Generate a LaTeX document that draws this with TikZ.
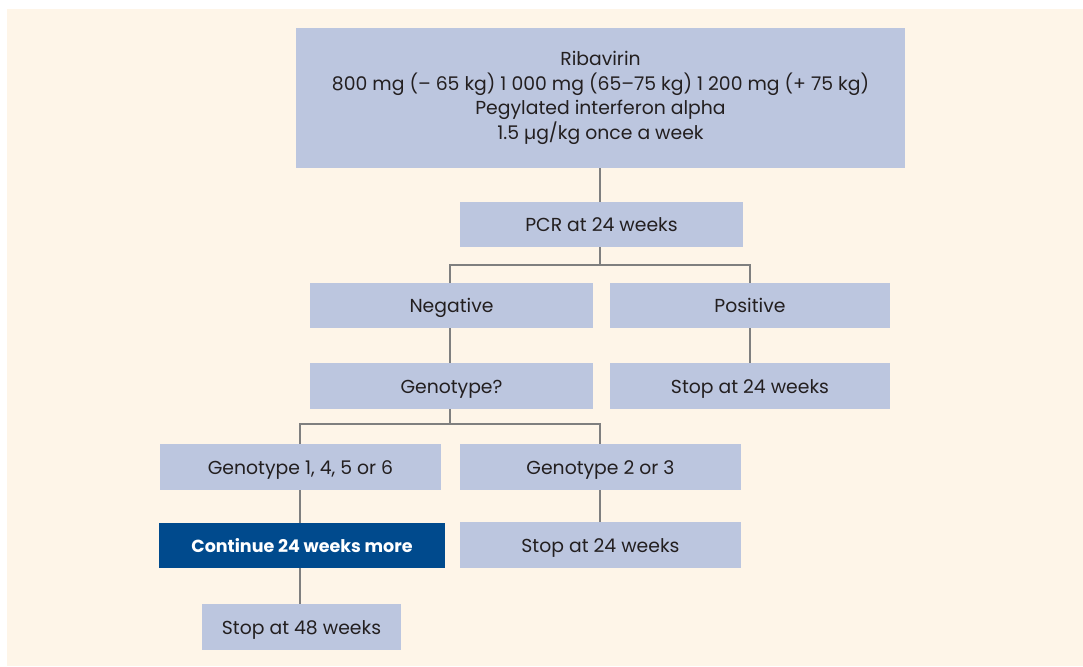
\documentclass[tikz,border=0pt]{standalone}
\usepackage{fontspec}
\setmainfont{Poppins}
\begin{document}
\begin{tikzpicture}[x=1pt,y=-1pt,
  box/.style={fill=boxblue, draw=none, inner sep=0pt, align=center, text=textdark, font=\fontsize{18.8}{24.7}\selectfont},
  one/.style={text height=14pt, text depth=0pt},
  dark/.style={fill=darkblue, draw=none, inner sep=0pt, align=center, text=white, font=\fontsize{17.5}{24}\selectfont\bfseries, text height=14pt, text depth=0pt},
  conn/.style={draw=linegray, line width=1.3pt}]
\definecolor{boxblue}{HTML}{BCC6DF}
\definecolor{darkblue}{HTML}{004A8D}
\definecolor{cream}{HTML}{FEF5E8}
\definecolor{linegray}{HTML}{7F7F7F}
\definecolor{textdark}{HTML}{231F20}
\useasboundingbox (0,0) rectangle (1083,666);
\fill[cream] (7,9) rectangle (1083,666);
\node[box, minimum width=609, minimum height=140] (top) at (600.5,98) {Ribavirin\\800 mg (– 65 kg) 1 000 mg (65–75 kg) 1 200 mg (+ 75 kg)\\Pegylated interferon alpha\\1.5 µg/kg once a week};
\node[box, one, minimum width=283, minimum height=45] (pcr) at (601.5,224.5) {PCR at 24 weeks};
\node[box, one, minimum width=283, minimum height=45] (neg) at (451.5,305.5) {Negative};
\node[box, one, minimum width=280, minimum height=45] (pos) at (750,305.5) {Positive};
\node[box, one, minimum width=283, minimum height=46] (geno) at (451.5,386) {Genotype?};
\node[box, one, minimum width=280, minimum height=46] (stopa) at (750,386) {Stop at 24 weeks};
\node[box, one, minimum width=281, minimum height=46] (ga) at (300.5,467) {Genotype 1, 4, 5 or 6};
\node[box, one, minimum width=281, minimum height=46] (gb) at (600.5,467) {Genotype 2 or 3};
\node[dark, minimum width=286, minimum height=45] (cont) at (302,545.5) {Continue 24 weeks more};
\node[box, one, minimum width=281, minimum height=46] (stopb) at (600.5,545) {Stop at 24 weeks};
\node[box, one, minimum width=199, minimum height=46] (stopc) at (301.5,627) {Stop at 48 weeks};
\coordinate (ba) at (600,265);
\coordinate (bb) at (450,424);
\draw[conn] (600,168) coordinate (t1) -- (t1 |- pcr.north);
\draw[conn] (600,247) coordinate (p1) -- (p1 |- ba);
\draw[conn] (450,283) coordinate (n1) -- (n1 |- ba) -- (750,265) coordinate (p2) -- (p2 |- pos.north);
\draw[conn] (n1 |- neg.south) -- (n1 |- geno.north);
\draw[conn] (p2 |- pos.south) -- (p2 |- stopa.north);
\draw[conn] (n1 |- geno.south) -- (bb);
\draw[conn] (300,444) coordinate (g1) -- (g1 |- bb) -- (600,424) coordinate (g2) -- (g2 |- gb.north);
\draw[conn] (g1 |- ga.south) -- (g1 |- cont.north);
\draw[conn] (g2 |- gb.south) -- (g2 |- stopb.north);
\draw[conn] (g1 |- cont.south) -- (g1 |- stopc.north);
\end{tikzpicture}
\end{document}
